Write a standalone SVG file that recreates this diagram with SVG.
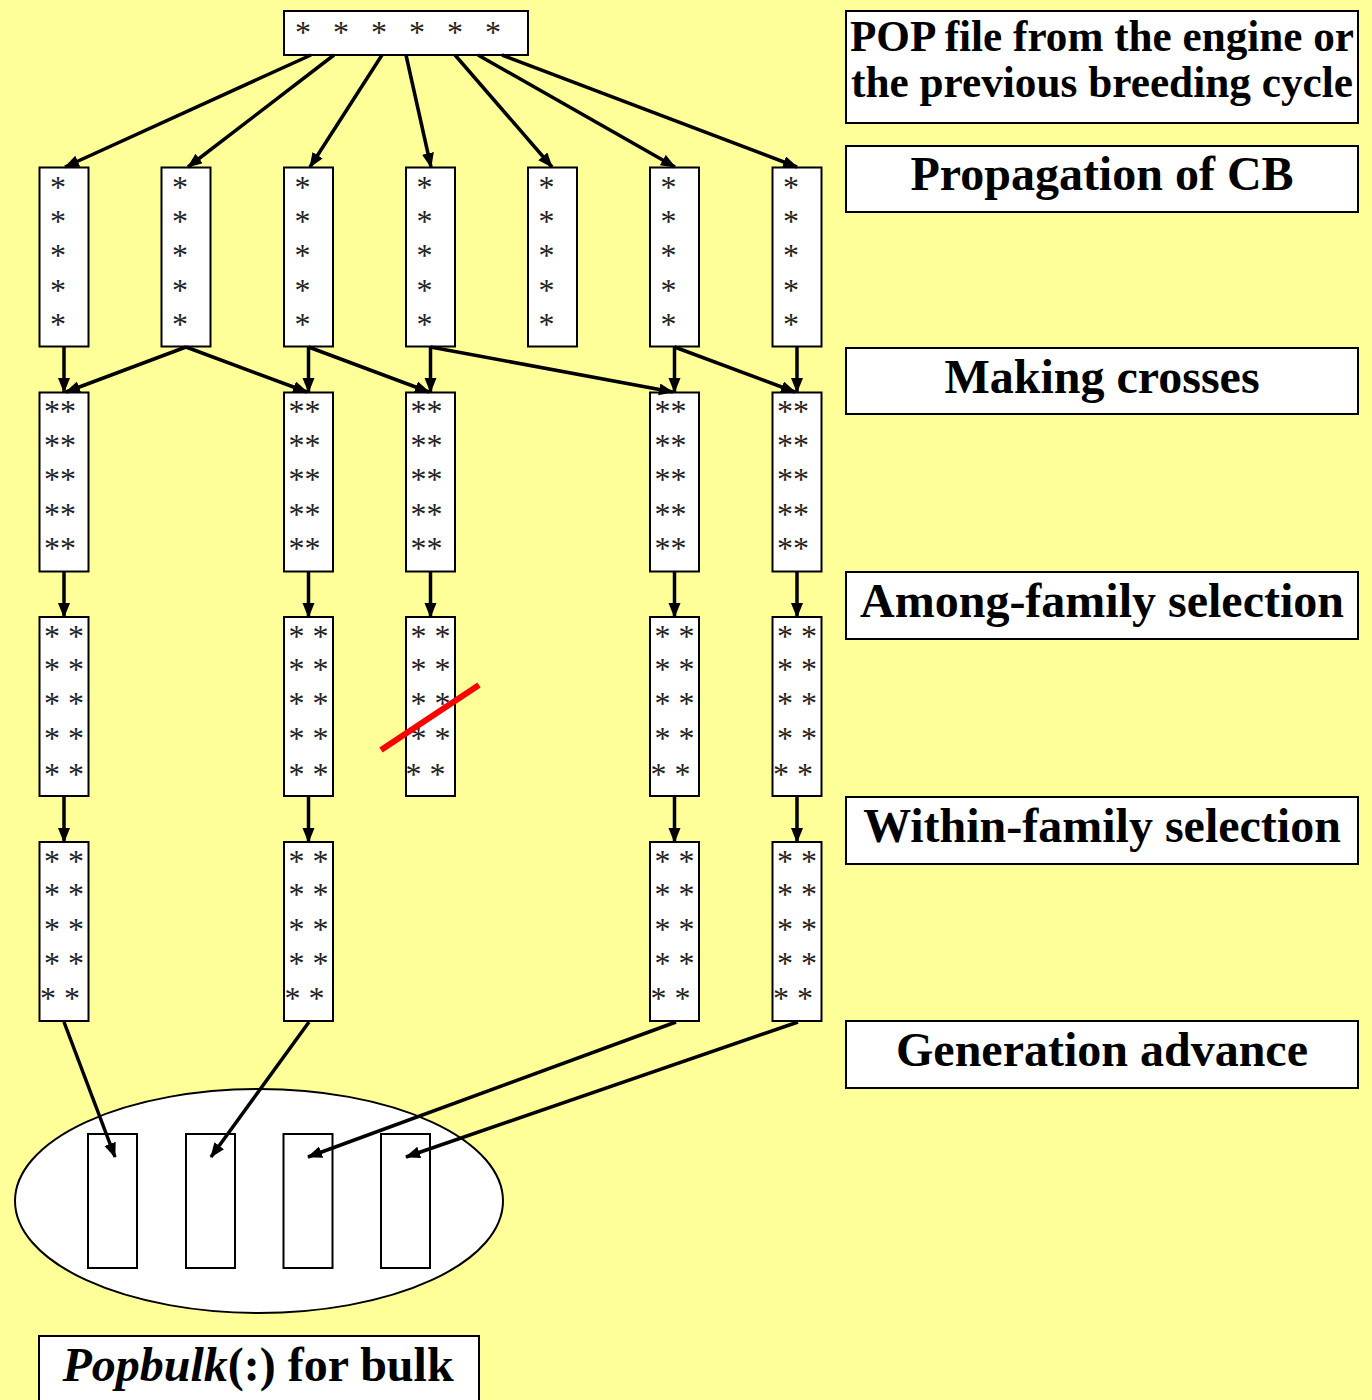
<svg xmlns="http://www.w3.org/2000/svg" width="1372" height="1400" viewBox="0 0 1372 1400">
<style>
.bx{fill:#fff;stroke:#000;stroke-width:2}
.st{font-family:"Liberation Serif","Times New Roman",serif;font-size:32px;fill:#222;text-anchor:middle}
.lb{font-family:"Liberation Serif","Times New Roman",serif;font-size:48px;font-weight:bold;fill:#000;text-anchor:middle}
.lb2{font-family:"Liberation Serif","Times New Roman",serif;font-size:44px;font-weight:bold;fill:#000;text-anchor:middle}
.cn{stroke:#000;stroke-width:3.5;fill:none;marker-end:url(#ah)}
</style>
<defs>
<marker id="ah" markerUnits="userSpaceOnUse" markerWidth="16" markerHeight="14" refX="14" refY="6" orient="auto"><path d="M0,0 L15,6 L0,12 z" fill="#000"/></marker>
</defs>
<rect width="1372" height="1400" fill="#FFFF99"/>

<g id="labels">
<g id="lbl-pop"><rect class="bx" x="846" y="11" width="512" height="112"/>
<text class="lb2" x="1102" y="51" textLength="504" lengthAdjust="spacingAndGlyphs">POP file from the engine or</text>
<text class="lb2" x="1102" y="97" textLength="502" lengthAdjust="spacingAndGlyphs">the previous breeding cycle</text></g>
<g id="lbl-prop"><rect class="bx" x="846" y="146" width="512" height="66"/><text class="lb" x="1102" y="190">Propagation of CB</text></g>
<g id="lbl-cross"><rect class="bx" x="846" y="348" width="512" height="66"/><text class="lb" x="1102" y="393">Making crosses</text></g>
<g id="lbl-among"><rect class="bx" x="846" y="572" width="512" height="67"/><text class="lb" x="1102" y="617">Among-family selection</text></g>
<g id="lbl-within"><rect class="bx" x="846" y="797" width="512" height="67"/><text class="lb" x="1102" y="842">Within-family selection</text></g>
<g id="lbl-gen"><rect class="bx" x="846" y="1021" width="512" height="67"/><text class="lb" x="1102" y="1066">Generation advance</text></g>
<g id="lbl-bulk"><rect class="bx" x="39" y="1336" width="440" height="80"/><text class="lb" x="258" y="1381"><tspan font-style="italic">Popbulk</tspan>(:) for bulk</text></g>
</g>

<g id="pop"><rect class="bx" x="284" y="11" width="244" height="44"/>
<text class="st" x="303 341 379 417 455 493" y="43">******</text></g>

<g id="row1">
<g id="r1c1"><rect class="bx" x="39.5" y="167.5" width="49" height="179"/><text class="st"><tspan x="58" y="198">*</tspan><tspan x="58" y="232">*</tspan><tspan x="58" y="266">*</tspan><tspan x="58" y="301">*</tspan><tspan x="58" y="335">*</tspan></text></g>
<g id="r1c2"><rect class="bx" x="161.5" y="167.5" width="49" height="179"/><text class="st"><tspan x="180" y="198">*</tspan><tspan x="180" y="232">*</tspan><tspan x="180" y="266">*</tspan><tspan x="180" y="301">*</tspan><tspan x="180" y="335">*</tspan></text></g>
<g id="r1c3"><rect class="bx" x="284" y="167.5" width="49" height="179"/><text class="st"><tspan x="302.5" y="198">*</tspan><tspan x="302.5" y="232">*</tspan><tspan x="302.5" y="266">*</tspan><tspan x="302.5" y="301">*</tspan><tspan x="302.5" y="335">*</tspan></text></g>
<g id="r1c4"><rect class="bx" x="406" y="167.5" width="49" height="179"/><text class="st"><tspan x="424.5" y="198">*</tspan><tspan x="424.5" y="232">*</tspan><tspan x="424.5" y="266">*</tspan><tspan x="424.5" y="301">*</tspan><tspan x="424.5" y="335">*</tspan></text></g>
<g id="r1c5"><rect class="bx" x="528" y="167.5" width="49" height="179"/><text class="st"><tspan x="546.5" y="198">*</tspan><tspan x="546.5" y="232">*</tspan><tspan x="546.5" y="266">*</tspan><tspan x="546.5" y="301">*</tspan><tspan x="546.5" y="335">*</tspan></text></g>
<g id="r1c6"><rect class="bx" x="650" y="167.5" width="49" height="179"/><text class="st"><tspan x="668.5" y="198">*</tspan><tspan x="668.5" y="232">*</tspan><tspan x="668.5" y="266">*</tspan><tspan x="668.5" y="301">*</tspan><tspan x="668.5" y="335">*</tspan></text></g>
<g id="r1c7"><rect class="bx" x="772.5" y="167.5" width="49" height="179"/><text class="st"><tspan x="791" y="198">*</tspan><tspan x="791" y="232">*</tspan><tspan x="791" y="266">*</tspan><tspan x="791" y="301">*</tspan><tspan x="791" y="335">*</tspan></text></g>
</g>

<g id="row2">
<g id="r2c1"><rect class="bx" x="39.5" y="392.5" width="49" height="179"/><text class="st"><tspan x="60" y="422">**</tspan><tspan x="60" y="456">**</tspan><tspan x="60" y="490">**</tspan><tspan x="60" y="525">**</tspan><tspan x="60" y="559">**</tspan></text></g>
<g id="r2c3"><rect class="bx" x="284" y="392.5" width="49" height="179"/><text class="st"><tspan x="304.5" y="422">**</tspan><tspan x="304.5" y="456">**</tspan><tspan x="304.5" y="490">**</tspan><tspan x="304.5" y="525">**</tspan><tspan x="304.5" y="559">**</tspan></text></g>
<g id="r2c4"><rect class="bx" x="406" y="392.5" width="49" height="179"/><text class="st"><tspan x="426.5" y="422">**</tspan><tspan x="426.5" y="456">**</tspan><tspan x="426.5" y="490">**</tspan><tspan x="426.5" y="525">**</tspan><tspan x="426.5" y="559">**</tspan></text></g>
<g id="r2c6"><rect class="bx" x="650" y="392.5" width="49" height="179"/><text class="st"><tspan x="670.5" y="422">**</tspan><tspan x="670.5" y="456">**</tspan><tspan x="670.5" y="490">**</tspan><tspan x="670.5" y="525">**</tspan><tspan x="670.5" y="559">**</tspan></text></g>
<g id="r2c7"><rect class="bx" x="772.5" y="392.5" width="49" height="179"/><text class="st"><tspan x="793" y="422">**</tspan><tspan x="793" y="456">**</tspan><tspan x="793" y="490">**</tspan><tspan x="793" y="525">**</tspan><tspan x="793" y="559">**</tspan></text></g>
</g>

<g id="row3">
<g id="r3c1"><rect class="bx" x="39.5" y="617" width="49" height="179"/><text class="st" xml:space="preserve"><tspan x="64" y="647">* *</tspan><tspan x="64" y="680">* *</tspan><tspan x="64" y="714">* *</tspan><tspan x="64" y="749">* *</tspan><tspan x="64" y="785">* *</tspan></text></g>
<g id="r3c3"><rect class="bx" x="284" y="617" width="49" height="179"/><text class="st" xml:space="preserve"><tspan x="308.5" y="647">* *</tspan><tspan x="308.5" y="680">* *</tspan><tspan x="308.5" y="714">* *</tspan><tspan x="308.5" y="749">* *</tspan><tspan x="308.5" y="785">* *</tspan></text></g>
<g id="r3c4"><rect class="bx" x="406" y="617" width="49" height="179"/><text class="st" xml:space="preserve"><tspan x="430.5" y="647">* *</tspan><tspan x="430.5" y="680">* *</tspan><tspan x="430.5" y="714">* *</tspan><tspan x="430.5" y="749">* *</tspan><tspan x="425.5" y="785">* *</tspan></text></g>
<g id="r3c6"><rect class="bx" x="650" y="617" width="49" height="179"/><text class="st" xml:space="preserve"><tspan x="674.5" y="647">* *</tspan><tspan x="674.5" y="680">* *</tspan><tspan x="674.5" y="714">* *</tspan><tspan x="674.5" y="749">* *</tspan><tspan x="670.5" y="785">* *</tspan></text></g>
<g id="r3c7"><rect class="bx" x="772.5" y="617" width="49" height="179"/><text class="st" xml:space="preserve"><tspan x="797" y="647">* *</tspan><tspan x="797" y="680">* *</tspan><tspan x="797" y="714">* *</tspan><tspan x="797" y="749">* *</tspan><tspan x="793" y="785">* *</tspan></text></g>
</g>

<g id="row4">
<g id="r4c1"><rect class="bx" x="39.5" y="842" width="49" height="179"/><text class="st" xml:space="preserve"><tspan x="64" y="872">* *</tspan><tspan x="64" y="905">* *</tspan><tspan x="64" y="940">* *</tspan><tspan x="64" y="974">* *</tspan><tspan x="60" y="1009">* *</tspan></text></g>
<g id="r4c3"><rect class="bx" x="284" y="842" width="49" height="179"/><text class="st" xml:space="preserve"><tspan x="308.5" y="872">* *</tspan><tspan x="308.5" y="905">* *</tspan><tspan x="308.5" y="940">* *</tspan><tspan x="308.5" y="974">* *</tspan><tspan x="304.5" y="1009">* *</tspan></text></g>
<g id="r4c6"><rect class="bx" x="650" y="842" width="49" height="179"/><text class="st" xml:space="preserve"><tspan x="674.5" y="872">* *</tspan><tspan x="674.5" y="905">* *</tspan><tspan x="674.5" y="940">* *</tspan><tspan x="674.5" y="974">* *</tspan><tspan x="670.5" y="1009">* *</tspan></text></g>
<g id="r4c7"><rect class="bx" x="772.5" y="842" width="49" height="179"/><text class="st" xml:space="preserve"><tspan x="797" y="872">* *</tspan><tspan x="797" y="905">* *</tspan><tspan x="797" y="940">* *</tspan><tspan x="797" y="974">* *</tspan><tspan x="793" y="1009">* *</tspan></text></g>
</g>

<g id="bulk">
<ellipse cx="259" cy="1201" rx="244" ry="112" fill="#fff" stroke="#000" stroke-width="2"/>
<rect class="bx" x="88" y="1134" width="49" height="134"/>
<rect class="bx" x="186" y="1134" width="49" height="134"/>
<rect class="bx" x="283.5" y="1134" width="49" height="134"/>
<rect class="bx" x="381" y="1134" width="49" height="134"/>
</g>

<g id="connectors">
<line class="cn" x1="311" y1="55" x2="65" y2="167"/>
<line class="cn" x1="334" y1="55" x2="188" y2="167"/>
<line class="cn" x1="382" y1="55" x2="310" y2="167"/>
<line class="cn" x1="406" y1="55" x2="431" y2="167"/>
<line class="cn" x1="455" y1="55" x2="552" y2="167"/>
<line class="cn" x1="478" y1="55" x2="675" y2="167"/>
<line class="cn" x1="502" y1="55" x2="797" y2="167"/>

<line class="cn" x1="64" y1="347" x2="64" y2="392"/>
<line class="cn" x1="186" y1="347" x2="66" y2="392"/>
<line class="cn" x1="186" y1="347" x2="307" y2="392"/>
<line class="cn" x1="308.5" y1="347" x2="308.5" y2="392"/>
<line class="cn" x1="308.5" y1="347" x2="429" y2="392"/>
<line class="cn" x1="430.5" y1="347" x2="430.5" y2="392"/>
<line class="cn" x1="430.5" y1="347" x2="673" y2="392"/>
<line class="cn" x1="674.5" y1="347" x2="674.5" y2="392"/>
<line class="cn" x1="674.5" y1="347" x2="795" y2="392"/>
<line class="cn" x1="797" y1="347" x2="797" y2="392"/>

<line class="cn" x1="64" y1="572" x2="64" y2="617"/>
<line class="cn" x1="308.5" y1="572" x2="308.5" y2="617"/>
<line class="cn" x1="430.5" y1="572" x2="430.5" y2="617"/>
<line class="cn" x1="674.5" y1="572" x2="674.5" y2="617"/>
<line class="cn" x1="797" y1="572" x2="797" y2="617"/>

<line class="cn" x1="64" y1="797" x2="64" y2="842"/>
<line class="cn" x1="308.5" y1="797" x2="308.5" y2="842"/>
<line class="cn" x1="674.5" y1="797" x2="674.5" y2="842"/>
<line class="cn" x1="797" y1="797" x2="797" y2="842"/>

<line class="cn" x1="64" y1="1022" x2="115" y2="1157"/>
<line class="cn" x1="309" y1="1022" x2="211" y2="1157"/>
<line class="cn" x1="676" y1="1022" x2="308" y2="1157"/>
<line class="cn" x1="798" y1="1022" x2="406" y2="1157"/>
</g>

<line id="strike" x1="381" y1="750" x2="479" y2="685" stroke="#FF0000" stroke-width="6"/>
</svg>
